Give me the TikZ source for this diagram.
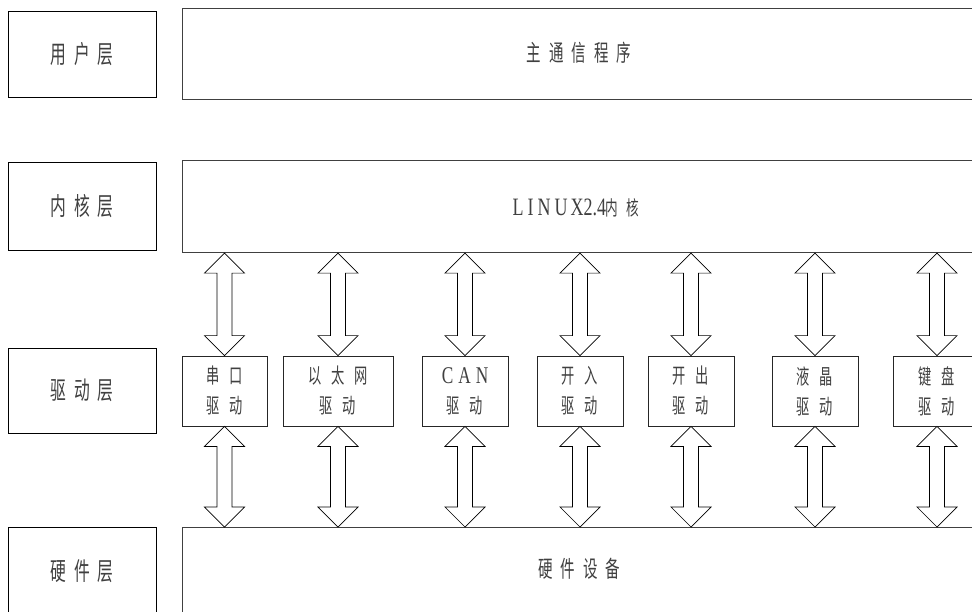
\documentclass[tikz,border=0pt]{standalone}
\usepackage{fontspec}
\usetikzlibrary{calc}
\newfontfamily\cjk[FakeStretch=0.63]{Noto Sans CJK SC}
\newfontfamily\lat[FakeStretch=0.72]{Liberation Serif}
\newcommand\gp{\hspace{8pt}}
\newcommand\gq{\hspace{10pt}}
\newcommand\dblarrow[2]{%
  \draw[blockarrow] let \p1=(#1), \p2=(#2) in
   (\x1,\y1) -- (\x1+20pt,\y1-20pt) -- (\x1+7.5pt,\y1-20pt) -- (\x1+7.5pt,\y2+20pt)
   -- (\x1+20pt,\y2+20pt) -- (\x1,\y2) -- (\x1-20pt,\y2+20pt) -- (\x1-7.5pt,\y2+20pt)
   -- (\x1-7.5pt,\y1-20pt) -- (\x1-20pt,\y1-20pt) -- cycle;}
\definecolor{txt}{HTML}{404040}
\tikzset{
  layerbox/.style={draw=black, line width=0.8pt, minimum width=148pt, inner sep=0pt,
    text=txt, font=\cjk\fontsize{25}{28}\selectfont},
  widebox/.style={draw=black!75, line width=1.1pt, minimum width=798pt, inner sep=0pt,
    text=txt, font=\cjk\fontsize{23}{26}\selectfont},
  drvbox/.style={draw=black!85, line width=0.8pt, minimum height=70pt, inner sep=0pt,
    text=txt, align=center, font=\cjk\fontsize{21}{30}\selectfont},
  blockarrow/.style={draw=black, fill=white, line width=0.7pt, line join=miter},
}
\begin{document}
\begin{tikzpicture}[x=1pt,y=-1pt]
\useasboundingbox (0,0) rectangle (972,611);
\clip (0,0) rectangle (972,611);
\fill[white] (0,0) rectangle (972,611);
% left layer boxes
\node[layerbox, minimum height=86pt] (user) at (82,54) {用\gp 户\gp 层};
\node[layerbox, minimum height=88pt] (kern) at (82,206) {内\gp 核\gp 层};
\node[layerbox, minimum height=85pt] (drv)  at (82,390.5) {驱\gp 动\gp 层};
\node[layerbox, minimum height=88pt, anchor=north] (hwl) at (82,527) {};
\node[text=txt, font=\cjk\fontsize{25}{28}\selectfont] (hwltext) at (82,571) {硬\gp 件\gp 层};
% wide boxes
\node[widebox, minimum height=91pt, anchor=north west] (main) at (182,8) {};
\node[text=txt, font=\cjk\fontsize{23}{26}\selectfont] (maintext) at (579,53) {主\gp 通\gp 信\gp 程\gp 序};
\node[widebox, minimum height=92pt, anchor=north west] (kernel) at (182,160) {};
\node[text=txt, font=\lat\fontsize{25}{28}\selectfont] (kerneltext) at (576,208)
  {L\hspace{4pt}I\hspace{4pt}N\hspace{4pt}U\hspace{3pt}X2.4\hspace{-1pt}{\cjk\fontsize{20}{22}\selectfont 内\hspace{9pt}核}};
\node[widebox, minimum height=92pt, anchor=north west] (hw) at (182,527) {};
\node[text=txt, font=\cjk\fontsize{23}{26}\selectfont] (hwtext) at (579,569) {硬\gp 件\gp 设\gp 备};
% driver boxes
\node[drvbox, minimum width=85pt] (d1) at (224.5,391) {串\gq 口\\驱\gq 动};
\node[drvbox, minimum width=110pt] (d2) at (338,391) {以\gq 太\gq 网\\驱\gq 动};
\node[drvbox, minimum width=86pt] (d3) at (465,391) {{\lat\fontsize{24}{30}\selectfont C\hspace{5pt}A\hspace{5pt}N}\\驱\gq 动};
\node[drvbox, minimum width=86pt] (d4) at (580,391) {开\gq 入\\驱\gq 动};
\node[drvbox, minimum width=86pt] (d5) at (691,391) {开\gq 出\\驱\gq 动};
\node[drvbox, minimum width=86pt] (d6) at (815,391) {液\gq 晶\\驱\gq 动};
\node[drvbox, minimum width=88pt] (d7) at (937,391) {键\gq 盘\\驱\gq 动};
% arrows
\foreach \d in {d1,d2,d3,d4,d5,d6,d7}{
  \dblarrow{\d.north |- kernel.south}{\d.north}
  \dblarrow{\d.south}{\d.south |- hw.north}
}
\end{tikzpicture}
\end{document}
